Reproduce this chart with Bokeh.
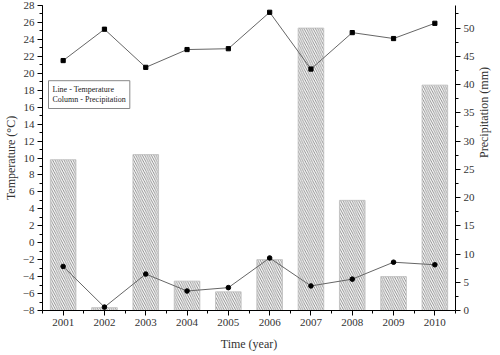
import math
from bokeh.plotting import figure
from bokeh.models import (Range1d, LinearAxis, SingleIntervalTicker, FixedTicker,
                          Label, ColumnDataSource)
from bokeh.embed import file_html
from bokeh.resources import INLINE

years = [2001, 2002, 2003, 2004, 2005, 2006, 2007, 2008, 2009, 2010]
temp_max = [21.5, 25.2, 20.7, 22.8, 22.9, 27.2, 20.5, 24.8, 24.1, 25.9]
temp_min = [-2.8, -7.6, -3.7, -5.7, -5.3, -1.8, -5.1, -4.3, -2.3, -2.6]
precip = [26.7, 0.5, 27.6, 5.2, 3.3, 9.0, 50.0, 19.5, 6.0, 39.9]
year_labels = [str(y) for y in years]

FONT = "Liberation Serif"

p = figure(width=500, height=355, output_backend="svg", toolbar_location=None,
           x_range=Range1d(2000.5, 2010.5), y_range=Range1d(-8, 28),
           min_border_left=40, min_border_right=41, min_border_top=5, min_border_bottom=45)
p.outline_line_color = None
p.grid.grid_line_color = None
p.background_fill_color = "white"

p.extra_y_ranges = {"precip": Range1d(0, 54)}

src = ColumnDataSource(dict(x=years, precip=precip, tmax=temp_max, tmin=temp_min))

p.vbar(x="x", top="precip", bottom=0, width=0.62, source=src, y_range_name="precip",
       fill_color="white", line_color="#bbbbbb", line_width=0.8,
       hatch_pattern="\\", hatch_color="#707070", hatch_scale=4.5, hatch_weight=0.8)

p.line("x", "tmax", source=src, line_color="#666666", line_width=1)
p.scatter("x", "tmax", source=src, marker="square", size=4.2, color="black")
p.line("x", "tmin", source=src, line_color="#666666", line_width=1)
p.scatter("x", "tmin", source=src, marker="circle", size=4.6, color="black")

def style_axis(ax):
    ax.axis_line_color = "black"
    ax.axis_line_width = 1
    ax.major_tick_line_color = "black"
    ax.minor_tick_line_color = "black"
    ax.major_tick_in = 0
    ax.major_tick_out = 5
    ax.minor_tick_in = 0
    ax.minor_tick_out = 3
    ax.major_label_text_font = FONT
    ax.major_label_text_font_size = "11px"
    ax.major_label_text_color = "#333333"
    ax.axis_label_text_font = FONT
    ax.axis_label_text_font_size = "12px"
    ax.axis_label_text_font_style = "normal"
    ax.axis_label_text_color = "#333333"
    ax.major_label_standoff = 3
    ax.axis_label_standoff = 3

# bottom axis
xa = p.xaxis[0]
xa.ticker = FixedTicker(ticks=years, minor_ticks=[y + 0.5 for y in years[:-1]] + [2000.5, 2010.5])
xa.major_label_overrides = {y: l for y, l in zip(years, year_labels)}
xa.axis_label = "Time (year)"
style_axis(xa)
xa.axis_label_standoff = 8

# left axis
ya = p.yaxis[0]
ya.ticker = SingleIntervalTicker(interval=2, num_minor_ticks=2)
ya.axis_label = "Temperature (°C)"
style_axis(ya)
ya.axis_label_standoff = 2

# right axis
ra = LinearAxis(y_range_name="precip", axis_label="Precipitation (mm)",
                ticker=SingleIntervalTicker(interval=5, num_minor_ticks=2))
style_axis(ra)
ra.axis_label_orientation = math.pi / 2
ra.axis_label_standoff = 6
p.add_layout(ra, "right")

# legend box
lbl = Label(x=6, y=202, x_units="screen", y_units="screen",
            text="Line - Temperature\nColumn - Precipitation",
            text_font=FONT, text_font_size="8px", text_color="#222222",
            border_line_color="#888888", border_line_width=1,
            background_fill_color="white", padding=4)
p.add_layout(lbl)

open("out.html", "w").write(file_html(p, INLINE))
